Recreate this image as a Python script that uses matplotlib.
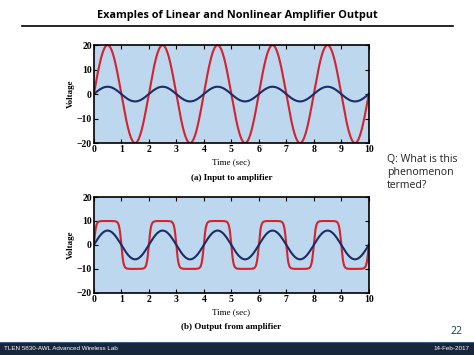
import numpy as np
import matplotlib
matplotlib.use("Agg")
import matplotlib.pyplot as plt

# values
t_range = [0, 10]
period = 2.0                 # seconds
input_amps = [3, 20]         # linear (blue), overdriven (red) input peaks
output_amps = [6, 10]        # blue output peak, red clip level
red_drive = 4.0              # how hard the red trace is pushed into clipping
x_ticks = [0, 1, 2, 3, 4, 5, 6, 7, 8, 9, 10]
y_ticks = [-20, -10, 0, 10, 20]
titles = ["(a) Input to amplifier", "(b) Output from amplifier"]

RED = "#d2232e"
BLUE = "#1c2c66"
FACE = "#bdd7ee"

t = np.linspace(t_range[0], t_range[1], 2000)
s = np.sin(2 * np.pi * t / period)

blue_in = input_amps[0] * s
red_in = input_amps[1] * s
blue_out = output_amps[0] * s
red_out = output_amps[1] * np.tanh(red_drive * s)

fig = plt.figure(figsize=(4.74, 3.55), dpi=100)
fig.patch.set_facecolor("white")

serif = "Liberation Serif"

def style_axes(ax, sub):
    ax.set_facecolor(FACE)
    ax.set_xlim(t_range)
    ax.set_ylim(-20, 20)
    ax.set_xticks(x_ticks)
    ax.set_yticks(y_ticks)
    ax.set_yticklabels([str(v).replace("-", "\u2212") for v in y_ticks])
    ax.tick_params(direction="in", top=True, right=True, length=3, width=0.8,
                   labelsize=7, pad=1.5)
    for lab in ax.get_xticklabels() + ax.get_yticklabels():
        lab.set_fontfamily(serif)
        lab.set_fontweight("bold")
    for sp in ax.spines.values():
        sp.set_linewidth(1.2)
    ax.set_ylabel("Voltage", fontfamily=serif, fontweight="bold", fontsize=6.5, labelpad=1)
    ax.set_xlabel("Time (sec)", fontfamily=serif, fontsize=6.5, labelpad=3)
    ax.text(0.5, -0.36, sub, transform=ax.transAxes, ha="center", va="center",
            fontfamily=serif, fontweight="bold", fontsize=6.5)

ax1 = fig.add_axes([0.198, 0.597, 0.580, 0.276])
ax1.plot(t, red_in, color=RED, lw=1.5)
ax1.plot(t, blue_in, color=BLUE, lw=1.5)
style_axes(ax1, titles[0])

ax2 = fig.add_axes([0.198, 0.175, 0.580, 0.270])
ax2.plot(t, red_out, color=RED, lw=1.5)
ax2.plot(t, blue_out, color=BLUE, lw=1.5)
style_axes(ax2, titles[1])

# slide decorations
fig.text(0.5, 0.955, "Examples of Linear and Nonlinear Amplifier Output",
         ha="center", va="center", fontfamily="Open Sans", fontweight="bold", fontsize=7.8)
fig.add_artist(plt.Line2D([0.046, 0.956], [0.927, 0.927], color="black", lw=1.2))

fig.text(0.816, 0.565, "Q: What is this\nphenomenon\ntermed?", ha="left", va="top",
         fontfamily="Open Sans", fontsize=7.6, linespacing=1.2, color="#222222")

fig.text(0.975, 0.066, "22", ha="right", va="center", fontfamily="Open Sans",
         fontsize=7.5, color="#1f3550")

fig.add_artist(plt.Rectangle((0, 0), 1, 0.035, transform=fig.transFigure,
                             color="#17263b", zorder=5))
fig.add_artist(plt.Line2D([0, 1], [0.036, 0.036], color="#3b5f86", lw=0.8, zorder=6))
fig.text(0.008, 0.018, "TLEN 5830-AWL Advanced Wireless Lab", ha="left", va="center",
         fontfamily="Liberation Sans", fontsize=4.5, color="white", zorder=7)
fig.text(0.99, 0.018, "14-Feb-2017", ha="right", va="center",
         fontfamily="Liberation Sans", fontsize=4.5, color="white", zorder=7)

fig.savefig("out.png", dpi=100)
